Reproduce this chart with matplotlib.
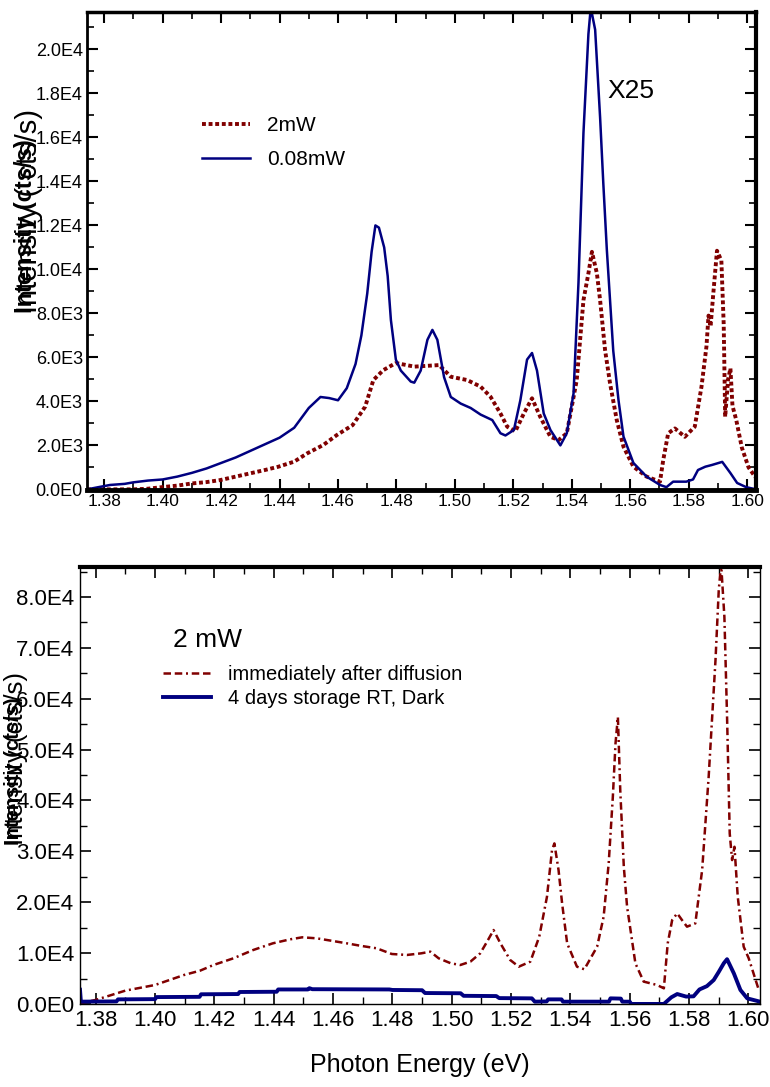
import numpy as np
import matplotlib
matplotlib.use("Agg")
import matplotlib.pyplot as plt
from matplotlib.ticker import MultipleLocator, FuncFormatter

plt.rcParams['font.family'] = ['Liberation Sans', 'DejaVu Sans']

# ---- data ----
# top panel : 2mW (dotted) and 0.08mW x25 (solid)
e_2mw = [1.3741, 1.385, 1.390, 1.395, 1.3997, 1.405, 1.410, 1.415, 1.4196, 1.425, 1.430,
         1.435, 1.4396, 1.445, 1.4495, 1.455, 1.4596, 1.465, 1.4693, 1.4721, 1.4755,
         1.4796, 1.4804, 1.4861, 1.4946, 1.4986, 1.5042, 1.5088, 1.5122, 1.5156, 1.5179,
         1.5207, 1.5236, 1.5264, 1.5292, 1.5327, 1.5355, 1.5383, 1.5417, 1.5440, 1.5457,
         1.5469, 1.5486, 1.5497, 1.5514, 1.5531, 1.5554, 1.5577, 1.5611, 1.5656, 1.5702,
         1.5713, 1.5730, 1.5753, 1.5787, 1.5821, 1.5844, 1.5861, 1.5868, 1.5875, 1.5885,
         1.5897, 1.5912, 1.5920, 1.5925, 1.5935, 1.5943, 1.5950, 1.5963, 1.5982, 1.6005,
         1.6028]
i_2mw = [0, 0, 0, 30, 100, 170, 270, 330, 420, 580, 730,
         880, 1030, 1260, 1640, 2020, 2470, 2920, 3760, 4970, 5420,
         5730, 5730, 5580, 5650, 5120, 4970, 4670, 4210, 3450, 2850,
         2640, 3450, 4140, 3300, 2390, 2240, 2550, 4970, 8600, 9820,
         10800, 9820, 8600, 6330, 4820, 3150, 1940, 1030, 580, 350,
         1330, 2550, 2770, 2390, 2850, 4670, 6500, 7900, 7400, 9000,
         10850, 10400, 7500, 3300, 5000, 5500, 3800, 3150, 1900, 1000,
         560]

e_008mw = [1.3741, 1.378, 1.382, 1.387, 1.390, 1.395, 1.400, 1.405, 1.410, 1.415, 1.420,
           1.425, 1.430, 1.435, 1.440, 1.445, 1.450, 1.454, 1.457, 1.460, 1.463,
           1.466, 1.468, 1.470, 1.4715, 1.4728, 1.4740, 1.4758, 1.4770, 1.4781, 1.4798,
           1.4815, 1.4849, 1.4861, 1.4883, 1.4906, 1.4923, 1.4940, 1.4963, 1.4986, 1.5020,
           1.5054, 1.5088, 1.5128, 1.5156, 1.5173, 1.5202, 1.5224, 1.5247, 1.5264, 1.5281,
           1.5304, 1.5327, 1.5361, 1.5383, 1.5406, 1.5423, 1.5440, 1.5457, 1.5465, 1.5480,
           1.5497, 1.5508, 1.5520, 1.5531, 1.5542, 1.5560, 1.5577, 1.5611, 1.5656, 1.5702,
           1.5724, 1.5747, 1.5792, 1.5815, 1.5832, 1.5857, 1.5880, 1.5915, 1.5943, 1.5966,
           1.5997, 1.6031]
i_008mw = [0, 100, 200, 250, 320, 400, 450, 580, 750, 950, 1200,
           1450, 1750, 2050, 2350, 2800, 3700, 4200, 4150, 4050, 4600,
           5700, 7000, 8900, 10800, 12000, 11900, 11000, 9700, 7700, 5900,
           5400, 4900, 4850, 5400, 6800, 7250, 6800, 5100, 4200, 3900,
           3700, 3400, 3150, 2550, 2450, 2700, 4050, 5900, 6200, 5400,
           3450, 2700, 2000, 2550, 4350, 9400, 16200, 20700, 21900, 20900,
           16900, 13900, 10900, 8600, 6300, 4050, 2400, 1200, 580, 200,
           100, 350, 350, 450, 880, 1030, 1110, 1250, 740, 290,
           100, 0]

# bottom panel : 2 mW, fresh vs after 4 days
e_fresh = [1.3747, 1.380, 1.390, 1.400, 1.4098, 1.4152, 1.4197, 1.4264, 1.4331, 1.4397,
           1.4455, 1.4496, 1.4545, 1.4593, 1.4646, 1.4696, 1.4747, 1.4798, 1.4849, 1.4897,
           1.4928, 1.4956, 1.4997, 1.5029, 1.5063, 1.5096, 1.5119, 1.5141, 1.5164, 1.5197,
           1.5226, 1.5265, 1.5295, 1.5321, 1.5338, 1.5346, 1.5360, 1.5372, 1.5389, 1.5422,
           1.5447, 1.5490, 1.5512, 1.5529, 1.5543, 1.5552, 1.5560, 1.5568, 1.5580, 1.5591,
           1.5619, 1.5647, 1.5692, 1.5715, 1.5728, 1.5743, 1.5760, 1.5776, 1.5793, 1.5821,
           1.5844, 1.5866, 1.5889, 1.5900, 1.5908, 1.5919, 1.5928, 1.5937, 1.5945, 1.5953,
           1.5964, 1.5984, 1.6001, 1.6035]
i_fresh = [130, 790, 2620, 3730, 5700, 6550, 7660, 8970, 10610, 11920,
           12700, 13100, 12900, 12440, 11920, 11400, 10940, 9820, 9630, 9950,
           10280, 8970, 7990, 7660, 8320, 9950, 12240, 14530, 11920, 8640,
           7330, 8320, 13230, 21080, 30250, 31560, 26320, 19770, 11920, 7330,
           6810, 11260, 17150, 27630, 40720, 51200, 56430, 42030, 26970, 19120,
           7990, 4390, 3730, 3070, 11920, 16500, 17810, 16500, 15190, 15840,
           26320, 44660, 67570, 81330, 86500, 76100, 56430, 33500, 28280, 30900,
           21080, 11260, 8970, 2750]

e_4days = [1.3747, 1.3750, 1.3870, 1.3875, 1.4000, 1.4005, 1.4150, 1.4155, 1.4280, 1.4285,
           1.4410, 1.4415, 1.4515, 1.4520, 1.4530, 1.4790, 1.4800, 1.4900, 1.4910, 1.5030,
           1.5040, 1.5150, 1.5160, 1.5270, 1.5280, 1.5320, 1.5325, 1.5370, 1.5375, 1.5530,
           1.5535, 1.5570, 1.5575, 1.5600, 1.5605, 1.5715, 1.5740, 1.5760, 1.5790, 1.5815,
           1.5835, 1.5860, 1.5883, 1.5900, 1.5917, 1.5928, 1.5951, 1.5973, 1.5996, 1.6039]
i_4days = [2800, 450, 500, 900, 950, 1350, 1400, 1900, 1950, 2350,
           2400, 2850, 2850, 3100, 2900, 2850, 2750, 2700, 2150, 2100,
           1600, 1550, 1150, 1100, 450, 500, 900, 900, 450, 450,
           1100, 1050, 450, 450, 0, 0, 1300, 1950, 1450, 1500,
           2850, 3500, 4700, 6300, 8000, 8800, 6000, 2750, 1100, 450]

red = '#800000'
navy = '#000080'


def sci_fmt(v, pos):
    if abs(v) < 1e-9:
        return "0.0E0"
    e = int(np.floor(np.log10(abs(v)) + 1e-9))
    return "%.1fE%d" % (v / 10 ** e, e)


fig = plt.figure(figsize=(7.7, 10.87), dpi=100)

# ---- top panel ----
ax1 = fig.add_axes([0.113, 0.5492, 0.869, 0.4397])
ax1.plot(e_2mw, i_2mw, color=red, lw=2.8, dashes=(1.0, 0.7), label="2mW")
ax1.plot(e_008mw, i_008mw, color=navy, lw=1.8, label="0.08mW")
ax1.set_xlim(1.3741, 1.6031)
ax1.set_ylim(-30, 21700)
ax1.xaxis.set_major_locator(MultipleLocator(0.02))
ax1.xaxis.set_minor_locator(MultipleLocator(0.01))
ax1.yaxis.set_major_locator(MultipleLocator(2000))
ax1.yaxis.set_minor_locator(MultipleLocator(1000))
ax1.xaxis.set_major_formatter(FuncFormatter(lambda v, p: "%.2f" % v))
ax1.yaxis.set_major_formatter(FuncFormatter(sci_fmt))
ax1.tick_params(which='both', direction='in', top=True, right=True)
ax1.tick_params(which='major', length=8, width=1.5, labelsize=12.5, pad=3)
ax1.tick_params(which='minor', length=5, width=1.2)
ax1.tick_params(axis='y', which='major', labelsize=13)
for side, w in [('left', 2), ('bottom', 3.5), ('top', 2.5), ('right', 3)]:
    ax1.spines[side].set_linewidth(w)
ax1.legend(loc='upper left', bbox_to_anchor=(0.172, 0.782), frameon=False,
           fontsize=15, handlelength=2.3, handletextpad=0.8, labelspacing=0.72,
           borderpad=0, borderaxespad=0)
ax1.text(0.777, 0.835, "X25", transform=ax1.transAxes, fontsize=19, va='center')

# garbled, doubled y label as in the reference
fig.text(0.033, 0.712, "Intensity (cts/s)", rotation=90, ha='center', va='bottom',
         fontsize=17, fontweight='bold')
fig.text(0.038, 0.712, "Intensity ( cts/s)", rotation=90, ha='center', va='bottom',
         fontsize=21)

# ---- bottom panel ----
ax2 = fig.add_axes([0.1039, 0.0764, 0.8831, 0.402])
ax2.plot(e_fresh, i_fresh, color=red, lw=1.8, dashes=(3, 1.5, 3, 1.5, 0.8, 1.5),
         label="immediately after diffusion")
ax2.plot(e_4days, i_4days, color=navy, lw=2.8, label="4 days storage RT, Dark")
ax2.set_xlim(1.3747, 1.6039)
ax2.set_ylim(0, 85900)
ax2.xaxis.set_major_locator(MultipleLocator(0.02))
ax2.xaxis.set_minor_locator(MultipleLocator(0.01))
ax2.yaxis.set_major_locator(MultipleLocator(10000))
ax2.yaxis.set_minor_locator(MultipleLocator(5000))
ax2.xaxis.set_major_formatter(FuncFormatter(lambda v, p: "%.2f" % v))
ax2.yaxis.set_major_formatter(FuncFormatter(sci_fmt))
ax2.tick_params(which='both', direction='in', top=True, right=True)
ax2.tick_params(which='major', length=8, width=1.2, labelsize=16, pad=4)
ax2.tick_params(which='minor', length=5, width=1)
for side in ['left', 'bottom', 'right']:
    ax2.spines[side].set_linewidth(1)
ax2.spines['top'].set_linewidth(3)
ax2.legend(loc='upper left', bbox_to_anchor=(0.122, 0.776), frameon=False,
           fontsize=14.5, handlelength=2.4, handletextpad=0.85, labelspacing=0.27,
           borderpad=0, borderaxespad=0)
ax2.text(0.137, 0.832, "2 mW", transform=ax2.transAxes, fontsize=19, va='center')

fig.text(0.017, 0.2226, "Intensity (cts/s)", rotation=90, ha='center', va='bottom',
         fontsize=14.5, fontweight='bold')
fig.text(0.021, 0.2226, "Intensity (cts/s)", rotation=90, ha='center', va='bottom',
         fontsize=18.5)
fig.text(0.545, 0.0202, "Photon Energy (eV)", ha='center', va='center', fontsize=18)

fig.savefig("out.png", dpi=100)
